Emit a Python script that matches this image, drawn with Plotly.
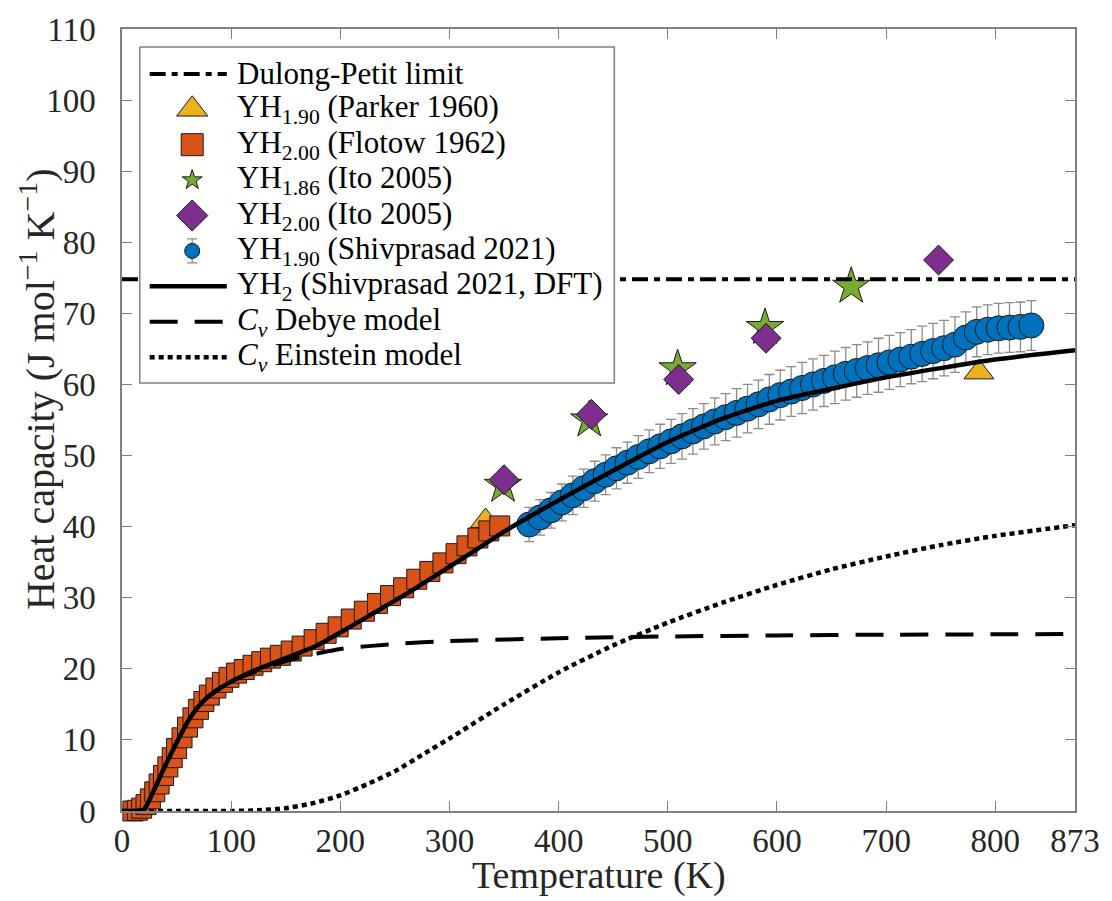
import plotly.graph_objects as go

# ---------------- data ----------------
dulong_T = [0, 873]
dulong_Cp = [74.8, 74.8]

parker_T = [333, 567, 785]
parker_Cp = [40.8, 56.3, 61.7]

flotow_T = [10, 14, 18, 22, 26, 30, 34, 38, 42, 46, 50, 55, 60, 65, 70, 75, 80, 86, 92, 98,
            105, 112, 120, 128, 136, 145, 155, 165, 176, 187, 198, 210, 222, 234, 246, 258,
            270, 282, 294, 306, 316, 326, 336, 346]
flotow_Cp = [0.0, 0.1, 0.4, 0.9, 1.7, 2.7, 3.8, 5.0, 6.2, 7.5, 8.8, 10.3, 11.8, 13.1, 14.3, 15.4,
             16.3, 17.3, 18.1, 18.8, 19.4, 19.9, 20.5, 21.0, 21.5, 21.9, 22.5, 23.2, 24.1, 25.0,
             25.9, 27.0, 28.1, 29.2, 30.3, 31.4, 32.6, 33.7, 34.9, 36.2, 37.3, 38.4, 39.4, 40.1]

ito186_T = [349, 428, 509, 589, 668]
ito186_Cp = [45.8, 55.0, 62.2, 68.0, 73.8]

ito200_T = [350, 430, 510, 590, 748]
ito200_Cp = [46.6, 55.8, 60.7, 66.5, 77.5]

shiv_T = [373, 383, 393, 403, 413, 423, 433, 443, 453, 463, 473, 483, 493, 503, 513, 523, 533,
          543, 553, 563, 573, 583, 593, 603, 613, 623, 633, 643, 653, 663, 673, 683, 693, 703,
          713, 723, 733, 743, 753, 763, 773, 783, 793, 803, 813, 823, 833]
shiv_Cp = [40.3, 41.3, 42.3, 43.4, 44.4, 45.4, 46.4, 47.3, 48.2, 49.0, 49.8, 50.6, 51.3, 52.0,
           52.7, 53.4, 54.1, 54.8, 55.4, 56.0, 56.6, 57.2, 57.9, 58.5, 59.0, 59.5, 60.0, 60.5,
           61.0, 61.5, 61.9, 62.3, 62.7, 63.1, 63.5, 63.9, 64.3, 64.7, 65.1, 65.6, 66.6, 67.4,
           67.7, 67.9, 68.0, 68.1, 68.3]
shiv_err = [2.4, 2.5, 2.5, 2.6, 2.7, 2.7, 2.8, 2.8, 2.9, 2.9, 3.0, 3.0, 3.1, 3.1, 3.2, 3.2, 3.2,
            3.3, 3.3, 3.4, 3.4, 3.4, 3.5, 3.5, 3.5, 3.6, 3.6, 3.6, 3.7, 3.7, 3.7, 3.7, 3.8, 3.8,
            3.8, 3.8, 3.9, 3.9, 3.9, 3.9, 3.6, 3.5, 3.5, 3.5, 3.5, 3.5, 3.5]

dft_T = [0, 10, 20, 30, 40, 50, 60, 70, 80, 90, 100, 120, 140, 160, 180, 200, 230, 260, 290,
         320, 350, 380, 420, 460, 500, 550, 600, 650, 700, 750, 800, 873]
dft_Cp = [0, 0, 0.2, 3.2, 6.5, 9.6, 12.5, 14.7, 16.2, 17.3, 18.2, 19.7, 20.9, 22.1, 23.4, 25.1,
          27.8, 30.5, 33.4, 36.3, 39.3, 42.0, 45.4, 48.7, 51.9, 55.2, 57.7, 59.4, 61.0, 62.3,
          63.5, 64.8]

debye_T = [0, 10, 20, 30, 40, 50, 60, 70, 80, 90, 100, 120, 140, 160, 180, 200, 250, 300, 400,
           500, 600, 700, 800, 873]
debye_Cp = [0, 0, 0.2, 3.2, 6.5, 9.6, 12.5, 14.7, 16.2, 17.3, 18.2, 19.5, 20.6, 21.5, 22.2, 22.8,
            23.5, 23.9, 24.3, 24.55, 24.7, 24.8, 24.85, 24.9]

einstein_T = [0, 50, 100, 125, 150, 175, 200, 225, 250, 275, 300, 350, 400, 450, 500, 550, 600,
              650, 700, 750, 800, 873]
einstein_Cp = [0, 0, 0, 0.1, 0.4, 1.1, 2.2, 3.8, 5.6, 7.9, 10.2, 15.0, 19.5, 23.3, 26.5, 29.3,
               31.8, 34.0, 35.8, 37.4, 38.7, 40.2]

x_ticks = [0, 100, 200, 300, 400, 500, 600, 700, 800, 873]
x_ticklabels = ["0", "100", "200", "300", "400", "500", "600", "700", "800", "873"]

legend_labels = [
    "Dulong-Petit limit",
    "YH<sub>1.90</sub> (Parker 1960)",
    "YH<sub>2.00</sub> (Flotow 1962)",
    "YH<sub>1.86</sub> (Ito 2005)",
    "YH<sub>2.00</sub> (Ito 2005)",
    "YH<sub>1.90</sub> (Shivprasad 2021)",
    "YH<sub>2</sub> (Shivprasad 2021, DFT)",
    "<i>C</i><sub><i>v</i></sub> Debye model",
    "<i>C</i><sub><i>v</i></sub> Einstein model",
]

# ---------------- style ----------------
FONT = "Liberation Serif"
C_YEL = "#EDB120"
C_ORA = "#D95319"
C_GRN = "#77AC30"
C_PUR = "#7E2F8E"
C_BLU = "#0072BD"
EDGE = "#1a1a1a"
FRAME = "#808080"
TXT = "#262626"
DASHDOT = "16px,6px,6px,6px"
DASHED = "28px,17px"
DOTTED = "5px,4px"

W, H = 1112, 901
ML, MR, MT, MB = 122, 26, 27, 90
PW, PH = W - ML - MR, H - MT - MB

fig = go.Figure()

fig.add_trace(go.Scatter(x=parker_T, y=parker_Cp, mode="markers", cliponaxis=False,
                         marker=dict(symbol="triangle-up", size=26, color=C_YEL,
                                     line=dict(color=EDGE, width=1)), showlegend=False))
fig.add_trace(go.Scatter(x=flotow_T, y=flotow_Cp, mode="markers", cliponaxis=False,
                         marker=dict(symbol="square", size=20, color=C_ORA,
                                     line=dict(color=EDGE, width=1)), showlegend=False))
fig.add_trace(go.Scatter(x=ito186_T, y=ito186_Cp, mode="markers", cliponaxis=False,
                         marker=dict(symbol="star", size=28, color=C_GRN,
                                     line=dict(color=EDGE, width=1)), showlegend=False))
fig.add_trace(go.Scatter(x=ito200_T, y=ito200_Cp, mode="markers", cliponaxis=False,
                         marker=dict(symbol="diamond", size=23, color=C_PUR,
                                     line=dict(color=EDGE, width=1)), showlegend=False))
fig.add_trace(go.Scatter(x=shiv_T, y=shiv_Cp, mode="markers", cliponaxis=False,
                         error_y=dict(type="data", array=shiv_err, color="#8c8c8c",
                                      thickness=1.3, width=5),
                         marker=dict(symbol="circle", size=25, color=C_BLU,
                                     line=dict(color=EDGE, width=1)), showlegend=False))
fig.add_trace(go.Scatter(x=dft_T, y=dft_Cp, mode="lines", line=dict(color="black", width=4.5,
                         shape="spline", smoothing=0.6), showlegend=False))
fig.add_trace(go.Scatter(x=debye_T, y=debye_Cp, mode="lines", line=dict(color="black", width=4,
                         dash=DASHED, shape="spline", smoothing=0.6), showlegend=False))
fig.add_trace(go.Scatter(x=einstein_T, y=einstein_Cp, mode="lines",
                         line=dict(color="black", width=4.5, dash=DOTTED, shape="spline",
                                   smoothing=0.6), showlegend=False))
fig.add_trace(go.Scatter(x=dulong_T, y=dulong_Cp, mode="lines",
                         line=dict(color="black", width=4, dash=DASHDOT), showlegend=False))

# ---------------- hand-made legend (on an overlay axis measured in pixels) ----------------
LG_L, LG_T, LG_R, LG_B = 18, 18, 498, 355     # box, px from plot top-left
ROW0, ROWSTEP = 45, 35.5
SYM_L, SYM_R, SYM_C, TXT_X = 28, 106, 71, 115
rows = [ROW0 + i * ROWSTEP for i in range(9)]

leg = dict(xaxis="x2", yaxis="y2", showlegend=False, hoverinfo="skip", cliponaxis=False)
fig.add_trace(go.Scatter(x=[LG_L, LG_R, LG_R, LG_L, LG_L], y=[LG_T, LG_T, LG_B, LG_B, LG_T],
                         mode="lines", fill="toself", fillcolor="white",
                         line=dict(color=FRAME, width=1.5), **leg))
line_rows = [(0, DASHDOT, 4), (6, "solid", 4.5), (7, DASHED, 4), (8, DOTTED, 4.5)]
for i, d, wd in line_rows:
    fig.add_trace(go.Scatter(x=[SYM_L, SYM_R], y=[rows[i], rows[i]], mode="lines",
                             line=dict(color="black", width=wd, dash=d), **leg))
mk_rows = [(1, "triangle-up", 27, C_YEL), (2, "square", 22, C_ORA), (3, "star", 15, C_GRN),
           (4, "diamond", 24, C_PUR)]
for i, s, sz, c in mk_rows:
    fig.add_trace(go.Scatter(x=[SYM_C], y=[rows[i]], mode="markers",
                             marker=dict(symbol=s, size=sz, color=c,
                                         line=dict(color=EDGE, width=1)), **leg))
fig.add_trace(go.Scatter(x=[SYM_C], y=[rows[5]], mode="markers",
                         error_y=dict(type="constant", value=12, color="#8c8c8c",
                                      thickness=1.3, width=5),
                         marker=dict(symbol="circle", size=15, color=C_BLU,
                                     line=dict(color=EDGE, width=1)), **leg))

annotations = []
for i, lab in enumerate(legend_labels):
    annotations.append(dict(x=TXT_X, y=rows[i], xref="x2", yref="y2", text=lab,
                            showarrow=False, xanchor="left", yanchor="middle", borderpad=0,
                            font=dict(family=FONT, size=31, color="black")))
# axis titles
annotations.append(dict(x=0.5, y=-(876 - MT - PH) / PH, xref="paper",
                        yref="paper", text="Temperature (K)", showarrow=False,
                        xanchor="center", yanchor="middle", borderpad=0,
                        font=dict(family=FONT, size=38, color=TXT)))
annotations.append(dict(x=-(ML - 36) / PW, y=1 - (388 - MT) / PH, xref="paper", yref="paper",
                        text="Heat capacity (J mol<sup>−1</sup> K<sup>−1</sup>)",
                        showarrow=False, textangle=-90, xanchor="center", yanchor="middle",
                        borderpad=0, font=dict(family=FONT, size=40, color=TXT)))

axis_common = dict(showline=True, linecolor=FRAME, linewidth=1.5, mirror="ticks",
                   ticks="inside", ticklen=10, tickwidth=1.2, tickcolor=FRAME,
                   showgrid=False, zeroline=False,
                   tickfont=dict(family=FONT, size=33, color=TXT))

fig.update_layout(
    width=W, height=H,
    margin=dict(l=ML, r=MR, t=MT, b=MB),
    paper_bgcolor="white", plot_bgcolor="white",
    showlegend=False,
    xaxis=dict(range=[0, 873], tickvals=x_ticks, ticktext=x_ticklabels,
               ticklabelstandoff=0, **axis_common),
    yaxis=dict(range=[0, 110], dtick=10, tick0=0, ticklabelstandoff=18, **axis_common),
    xaxis2=dict(range=[0, PW], overlaying="x", anchor="y2", visible=False, fixedrange=True),
    yaxis2=dict(range=[PH, 0], overlaying="y", anchor="x2", visible=False, fixedrange=True),
    annotations=annotations,
)

fig.write_html("out.html")
